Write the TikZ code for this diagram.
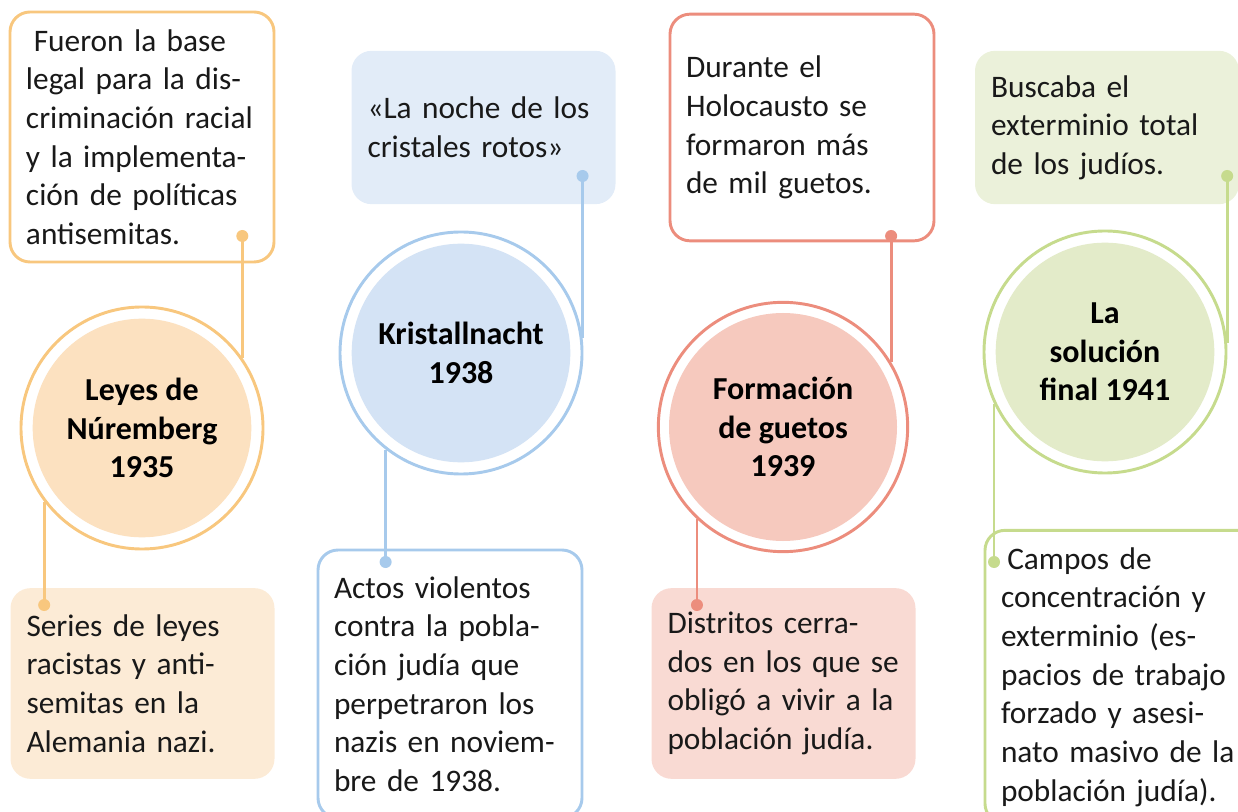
\documentclass[tikz,border=0pt]{standalone}
\usepackage{fontspec}
\setmainfont{Carlito}
\usetikzlibrary{positioning}
\definecolor{corange}{HTML}{F8C77E}
\definecolor{corangedisk}{HTML}{FCE1C0}
\definecolor{corangebox}{HTML}{FCEBD6}
\definecolor{cblue}{HTML}{A7CAEC}
\definecolor{cbluedisk}{HTML}{D4E3F5}
\definecolor{cbluebox}{HTML}{E2ECF8}
\definecolor{cred}{HTML}{EC8D7D}
\definecolor{creddisk}{HTML}{F6C9BE}
\definecolor{credbox}{HTML}{F9DAD3}
\definecolor{cgreen}{HTML}{C6DB8D}
\definecolor{cgreendisk}{HTML}{E3EBC9}
\definecolor{cgreenbox}{HTML}{EBF1DA}
\tikzset{
  every picture/.style={line width=2.2pt},
  txt/.style={font=\fontsize{23.5}{29}\selectfont, align=left, text=black!90, text width=174pt, inner xsep=12pt},
  linebox/.style={draw=#1, fill=white, rounded corners=15pt, txt},
  softbox/.style={fill=#1, rounded corners=15pt, txt},
  ring/.style={circle, draw=#1, fill=white, inner sep=0pt},
  disk/.style={circle, fill=#1, inner sep=0pt, align=center, font=\bfseries\fontsize{24}{29}\selectfont},
  dot/.style={circle, fill=#1, inner sep=0pt, minimum size=9pt},
  link/.style={draw=#1, line width=2.2pt},
}
\begin{document}
\begin{tikzpicture}[x=0.75pt, y=-0.75pt]
  \useasboundingbox (0,0) rectangle (1238,812);
  % text boxes
  \node[linebox=corange, minimum height=187.5pt] (baselegal) at (142,137)
    {\hspace{0.25em}Fueron la base\\legal para la dis-\\criminación racial\\y la implementa-\\ción de políticas\\antisemitas.};
  \node[softbox=corangebox, minimum height=143pt] (leyesrac) at (142.5,683.5)
    {Series de leyes\\racistas y anti-\\semitas en la\\Alemania nazi.};
  \node[softbox=cbluebox, minimum height=115pt] (noche) at (483.5,127.5)
    {«La noche de los\\cristales rotos»};
  \node[linebox=cblue, minimum height=201pt] (actos) at (450,684)
    {Actos violentos\\contra la pobla-\\ción judía que\\perpetraron los\\nazis en noviem-\\bre de 1938.};
  \node[linebox=cred, minimum height=170pt] (holocausto) at (802,127.5)
    {Durante el\\Holocausto se\\formaron más\\de mil guetos.};
  \node[softbox=credbox, minimum height=143pt] (distritos) at (783.5,683.5)
    {Distritos cerra-\\dos en los que se\\obligó a vivir a la\\población judía.};
  \node[softbox=cgreenbox, minimum height=115pt] (buscaba) at (1107,127.5)
    {Buscaba el\\exterminio total\\de los judíos.};
  \node[linebox=cgreen, minimum height=220pt, text width=186pt] (campos) at (1125,677)
    {\hspace{0.2em}Campos de\\concentración y\\exterminio (es-\\pacios de trabajo\\forzado y asesi-\\nato masivo de la\\población judía).};
  % timeline circles
  \node[ring=corange, minimum size=181.5pt] (leyes) at (142,428) {};
  \node[disk=corangedisk, minimum size=164pt] (leyestxt) at (leyes) {Leyes de\\Núremberg\\1935};
  \node[ring=cblue, minimum size=181.5pt] (kristall) at (461,353) {};
  \node[disk=cbluedisk, minimum size=164pt] (kristalltxt) at (kristall) {Kristallnacht\\1938};
  \node[ring=cred, minimum size=187pt] (guetos) at (783,427) {};
  \node[disk=creddisk, minimum size=171pt] (guetostxt) at (guetos) {Formación\\de guetos\\1939};
  \node[ring=cgreen, minimum size=181.5pt] (solucion) at (1105,352) {};
  \node[disk=cgreendisk, minimum size=164pt] (soluciontxt) at (solucion) {La\\solución\\final 1941};
  % dots
  \node[dot=corange] (d1) at (leyes.35 |- 0,236) {};
  \node[dot=corange] (d2) at (leyes.217 |- 0,605) {};
  \node[dot=cblue] (d3) at (kristall.7 |- 0,176) {};
  \node[dot=cblue] (d4) at (kristall.232 |- 0,562) {};
  \node[dot=cred] (d5) at (guetos.31 |- 0,236) {};
  \node[dot=cred] (d6) at (guetos.227 |- 0,605) {};
  \node[dot=cgreen] (d7) at (solucion.4 |- 0,176) {};
  \node[dot=cgreen] (d8) at (solucion.205 |- 0,562) {};
  % links
  \draw[link=corange] (d1.center) -- (leyes.35);
  \draw[link=corange] (leyes.217) -- (d2.center);
  \draw[link=cblue] (d3.center) -- (kristall.7);
  \draw[link=cblue] (kristall.232) -- (d4.center);
  \draw[link=cred] (d5.center) -- (guetos.31);
  \draw[link=cred] (guetos.227) -- (d6.center);
  \draw[link=cgreen] (d7.center) -- (solucion.4);
  \draw[link=cgreen] (solucion.205) -- (d8.center);
\end{tikzpicture}
\end{document}
